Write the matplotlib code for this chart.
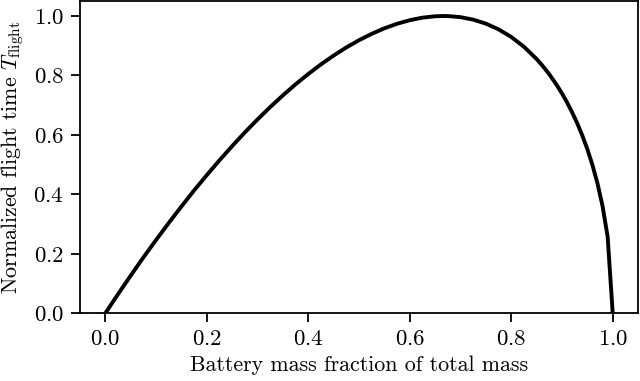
import matplotlib
matplotlib.use("Agg")
import matplotlib.pyplot as plt

# battery mass fraction and normalized flight time
mass_fraction = [0.0, 0.025, 0.05, 0.075, 0.1, 0.125, 0.15, 0.175, 0.2, 0.225, 0.25,
                 0.275, 0.3, 0.325, 0.35, 0.375, 0.4, 0.425, 0.45, 0.475, 0.5,
                 0.525, 0.55, 0.575, 0.6, 0.625, 0.65, 0.667, 0.675, 0.7, 0.725,
                 0.75, 0.775, 0.8, 0.825, 0.85, 0.865, 0.875, 0.89, 0.9, 0.91,
                 0.92, 0.93, 0.94, 0.95, 0.96, 0.97, 0.98, 0.99, 1.0]
flight_time = [0.0, 0.0641, 0.1266, 0.1878, 0.2465, 0.3038, 0.3593, 0.4133, 0.4648,
               0.5146, 0.5625, 0.6084, 0.6521, 0.6937, 0.7332, 0.7703, 0.8050,
               0.8373, 0.8671, 0.8942, 0.9186, 0.9401, 0.9586, 0.9739, 0.9859,
               0.9944, 0.9991, 1.0, 0.9998, 0.9961, 0.9878, 0.9743, 0.9551,
               0.9295, 0.8966, 0.8553, 0.8257, 0.8038, 0.7670, 0.7394, 0.7093,
               0.6760, 0.6393, 0.5982, 0.5519, 0.4988, 0.4365, 0.3601, 0.2572,
               0.0]

plt.rcParams["font.family"] = "serif"
plt.rcParams["font.serif"] = ["cmr10"]
plt.rcParams["mathtext.fontset"] = "cm"
plt.rcParams["axes.formatter.use_mathtext"] = True
plt.rcParams["axes.unicode_minus"] = False

fig, ax = plt.subplots(figsize=(6.4, 3.81), dpi=100)
ax.plot(mass_fraction, flight_time, color="black", linewidth=2.8)
ax.set_xlim(-0.05, 1.05)
ax.set_ylim(0, 1.05)
ax.set_xticks([0.0, 0.2, 0.4, 0.6, 0.8, 1.0])
ax.set_yticks([0.0, 0.2, 0.4, 0.6, 0.8, 1.0])
ax.set_xlabel("Battery mass fraction of total mass", fontsize=15.8, labelpad=5)
ax.set_ylabel(r"Normalized flight time $T_{\rm flight}$", fontsize=15.8, labelpad=5)
ax.tick_params(labelsize=16.5, width=1.3, length=6.5, pad=5)
for s in ax.spines.values():
    s.set_linewidth(1.3)

fig.subplots_adjust(left=0.125, right=0.997, top=0.997, bottom=0.178)
fig.savefig("out.png", dpi=100)
